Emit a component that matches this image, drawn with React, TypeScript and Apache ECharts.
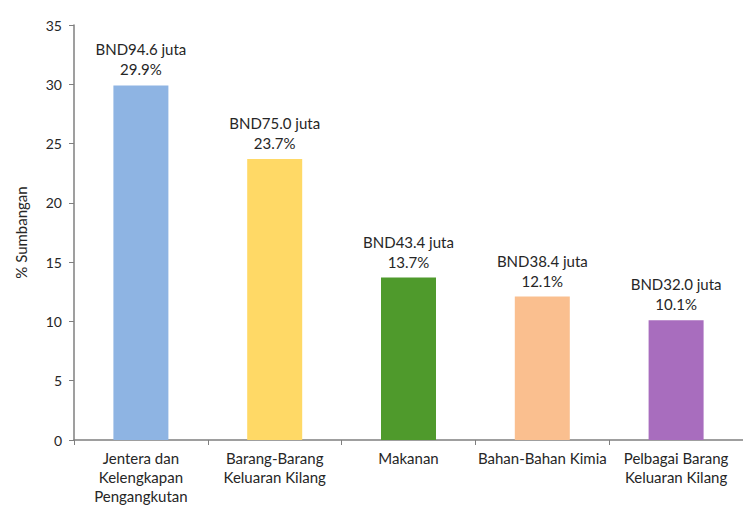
import React, { useEffect, useRef } from "react";
import * as echarts from "echarts";

const categories = [
  "Jentera dan\nKelengkapan\nPengangkutan",
  "Barang-Barang\nKeluaran Kilang",
  "Makanan",
  "Bahan-Bahan Kimia",
  "Pelbagai Barang\nKeluaran Kilang",
];
const shares = [29.9, 23.7, 13.7, 12.1, 10.1];
const amounts = ["94.6", "75.0", "43.4", "38.4", "32.0"];
const colors = ["#8EB4E3", "#FFD966", "#4F9A2C", "#FABF8F", "#A86DBE"];
const yTicks = [0, 5, 10, 15, 20, 25, 30, 35];

export default function App() {
  const ref = useRef<HTMLDivElement>(null);
  useEffect(() => {
    if (!ref.current) return;
    const chart = echarts.init(ref.current, null, { renderer: "svg" });
    const font = "Lato, 'Open Sans', sans-serif";
    chart.setOption({
      animation: false,
      backgroundColor: "#ffffff",
      grid: { left: 74, top: 25, width: 675, height: 415 },
      xAxis: {
        type: "category",
        data: categories,
        axisLine: { lineStyle: { color: "#7f7f7f", width: 1.5 } },
        axisTick: { show: true, alignWithLabel: false, length: 5, lineStyle: { color: "#7f7f7f" } },
        axisLabel: {
          interval: 0,
          color: "#262626",
          fontFamily: font,
          fontSize: 15,
          lineHeight: 19,
          margin: 8,
        },
      },
      yAxis: {
        type: "value",
        min: yTicks[0],
        max: yTicks[yTicks.length - 1],
        interval: 5,
        name: "% Sumbangan",
        nameLocation: "middle",
        nameGap: 46,
        nameTextStyle: { color: "#262626", fontFamily: font, fontSize: 15 },
        axisLine: { show: true, lineStyle: { color: "#7f7f7f", width: 1.5 } },
        axisTick: { show: true, length: 5, lineStyle: { color: "#7f7f7f" } },
        splitLine: { show: false },
        axisLabel: { color: "#262626", fontFamily: font, fontSize: 14, margin: 12 },
      },
      series: [
        {
          type: "bar",
          barWidth: 55,
          data: shares.map((v, i) => ({ value: v, itemStyle: { color: colors[i] } })),
          label: {
            show: true,
            position: "top",
            distance: 6,
            color: "#262626",
            fontFamily: font,
            fontSize: 15,
            lineHeight: 20,
            formatter: (p: any) => `BND${amounts[p.dataIndex]} juta\n${shares[p.dataIndex].toFixed(1)}%`,
          },
        },
      ],
    });
    return () => chart.dispose();
  }, []);
  return (
    <div
      ref={ref}
      style={{ position: "absolute", left: 0, top: 0, width: 743, height: 509, overflow: "hidden" }}
    />
  );
}
